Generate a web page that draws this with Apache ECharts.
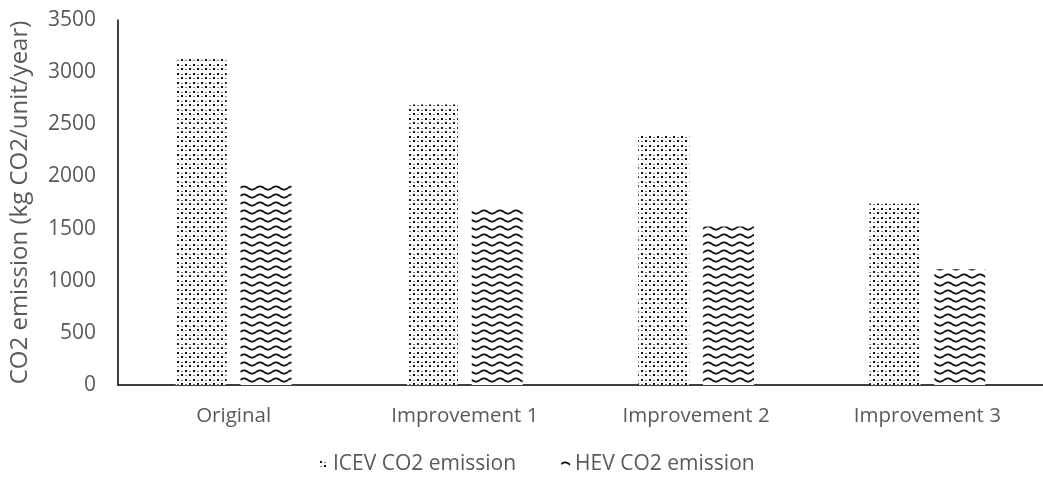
<!DOCTYPE html>
<html>
<head>
<meta charset="utf-8">
<script src="https://cdn.jsdelivr.net/npm/echarts@6/dist/echarts.min.js"></script>
<style>html,body{margin:0;padding:0;background:#fff}#c{width:1043px;height:484px}</style>
</head>
<body>
<div id="c"></div>
<script>
const categories = ['Original', 'Improvement 1', 'Improvement 2', 'Improvement 3'];
const icevValues = [3130, 2690, 2410, 1740];
const hevValues = [1915, 1705, 1520, 1110];
const seriesNames = ['ICEV CO2 emission', 'HEV CO2 emission'];
const yTicks = { min: 0, max: 3500, interval: 500 };

function dotPattern() {
  const c = document.createElement('canvas');
  c.width = 8; c.height = 9;
  const g = c.getContext('2d');
  g.fillStyle = '#fff'; g.fillRect(0, 0, 8, 9);
  g.fillStyle = '#111';
  g.fillRect(1, 1, 2, 2);
  g.fillRect(5, 5, 2, 2);
  g.fillStyle = '#777';
  g.fillRect(5, 2, 2, 1);
  g.fillRect(1, 6, 2, 1);
  return c;
}
function wavePattern() {
  const c = document.createElement('canvas');
  c.width = 16; c.height = 8;
  const g = c.getContext('2d');
  g.fillStyle = '#fff'; g.fillRect(0, 0, 16, 8);
  g.strokeStyle = '#111'; g.lineWidth = 1.8;
  g.beginPath();
  for (let x = 0; x <= 16; x += 0.5) {
    const y = 4 - 1.6 * Math.sin(x / 16 * Math.PI * 2);
    if (x === 0) g.moveTo(x, y); else g.lineTo(x, y);
  }
  g.stroke();
  return c;
}

const chart = echarts.init(document.getElementById('c'));
const txt = '#595959';
const ff = '"Open Sans", sans-serif';
chart.setOption({
  animation: false,
  grid: { left: 118, top: 20, width: 936, bottom: 99 },
  legend: {
    bottom: 4, left: 314,
    itemWidth: 9, itemHeight: 9, itemGap: 45,
    textStyle: { color: txt, fontSize: 21, fontFamily: ff },
    data: seriesNames
  },
  xAxis: {
    type: 'category', data: categories,
    axisLine: { lineStyle: { color: '#000', width: 1.5 } },
    axisTick: { show: false },
    axisLabel: { color: txt, fontSize: 20.5, fontFamily: ff, margin: 21 }
  },
  yAxis: {
    type: 'value', min: yTicks.min, max: yTicks.max, interval: yTicks.interval,
    name: 'CO2 emission (kg CO2/unit/year)', nameLocation: 'middle', nameGap: 86,
    nameTextStyle: { color: txt, fontSize: 24, fontFamily: ff },
    axisLine: { show: true, lineStyle: { color: '#000', width: 1.5 } },
    axisTick: { show: false },
    splitLine: { show: false },
    axisLabel: { color: txt, fontSize: 21, fontFamily: ff, margin: 22, formatter: v => String(v) }
  },
  series: [
    { name: seriesNames[0], type: 'bar', data: icevValues, barWidth: 51, barGap: '27%',
      itemStyle: { color: { image: dotPattern(), repeat: 'repeat' } } },
    { name: seriesNames[1], type: 'bar', data: hevValues, barWidth: 51,
      itemStyle: { color: { image: wavePattern(), repeat: 'repeat' } } }
  ]
});
</script>
</body>
</html>
